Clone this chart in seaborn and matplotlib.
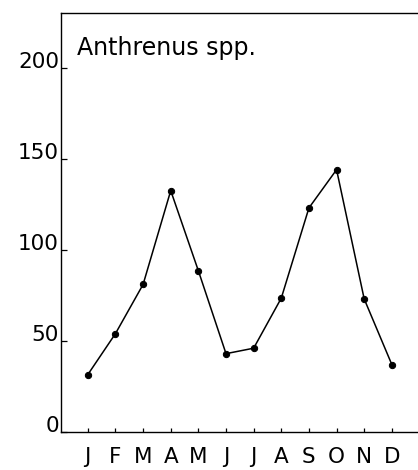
import matplotlib
matplotlib.use("Agg")
import matplotlib.pyplot as plt
import seaborn as sns
import pandas as pd

months = ["J", "F", "M", "A", "M", "J", "J", "A", "S", "O", "N", "D"]
month_num = [1, 2, 3, 4, 5, 6, 7, 8, 9, 10, 11, 12]
counts = [31.5, 54, 81, 132.5, 88.5, 43, 46, 73.5, 123, 144, 73, 37]
yticks = [0, 50, 100, 150, 200]
title = "Anthrenus spp."

sns.set_style("ticks")
plt.rcParams["font.family"] = ["DejaVu Sans"]
plt.rcParams["text.color"] = "black"
plt.rcParams["xtick.color"] = "black"
plt.rcParams["ytick.color"] = "black"

df = pd.DataFrame({"month": month_num, "count": counts})

W, H = 418, 470
left_px, right_px, top_px, bottom_px = 61, 424, 13, 432
fig = plt.figure(figsize=(W / 100, H / 100), dpi=100)
ax = fig.add_axes([left_px / W, (H - bottom_px) / H,
                   (right_px - left_px) / W, (bottom_px - top_px) / H])

sns.lineplot(data=df, x="month", y="count", ax=ax, color="black",
             linewidth=1.1, marker="o", markersize=4.5,
             markeredgecolor="black", markerfacecolor="black")

ax.set_xlim(0.03, 0.03 + (right_px - left_px) / 27.64)
ax.set_ylim(0, 230)
ax.set_xticks(month_num)
ax.set_xticklabels(months, fontsize=15.5, color="black")
ax.set_yticks(yticks)
ax.set_yticklabels([str(v) for v in yticks], fontsize=15.5, va="baseline",
                   color="black")
ax.tick_params(axis="y", direction="in", length=4, width=0.9, pad=1.5)
ax.tick_params(axis="x", direction="in", length=3, width=0.9, pad=10.5)
ax.set_xlabel("")
ax.set_ylabel("")

for s in ["left", "bottom", "top"]:
    ax.spines[s].set_visible(True)
    ax.spines[s].set_linewidth(1.0)
    ax.spines[s].set_color("black")
ax.spines["right"].set_visible(False)

ax.text(0.045, (bottom_px - 36) / (bottom_px - top_px), title,
        transform=ax.transAxes, fontsize=17, ha="left", va="top",
        color="black")

fig.savefig("out.png", dpi=100)
